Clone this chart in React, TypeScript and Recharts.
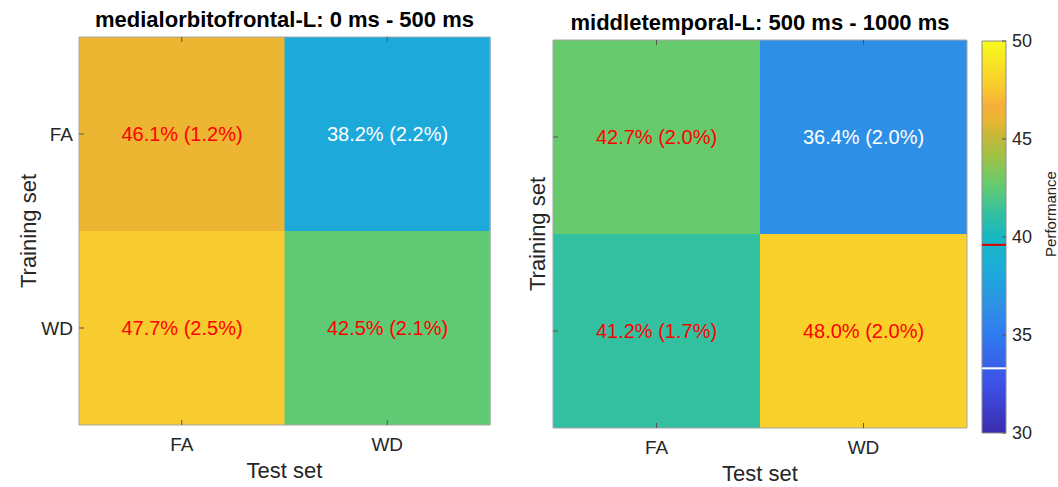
import { BarChart, Bar, XAxis, YAxis, Cell, LabelList, ReferenceLine } from 'recharts'

const testSets = ['FA', 'WD']

// medialorbitofrontal-L, 0-500 ms (rows = training set)
const mofTrainFA = [46.1, 38.2]
const mofTrainFASem = [1.2, 2.2]
const mofTrainWD = [47.7, 42.5]
const mofTrainWDSem = [2.5, 2.1]

// middletemporal-L, 500-1000 ms
const mtTrainFA = [42.7, 36.4]
const mtTrainFASem = [2.0, 2.0]
const mtTrainWD = [41.2, 48.0]
const mtTrainWDSem = [1.7, 2.0]

// colour bar
const cbRange = [30, 50]
const cbTicks = [30, 35, 40, 45, 50]
const sigLevel = 39.6
const chanceLevel = 33.3

const FONT = '"Liberation Sans", Arial, Helvetica, sans-serif'
const AXIS = '#262626'
const BOX = '#a6a6a6'
const TICK = '#555555'

// colour map as seen on the colour bar (0 = 30 %, 1 = 50 %)
const mapStops: [number, string][] = [
  [0, '#3a2cae'],
  [0.12, '#3e4fe6'],
  [0.25, '#2f7bf0'],
  [0.32, '#2e8fe6'],
  [0.41, '#1daadb'],
  [0.5, '#17b8c3'],
  [0.56, '#33c0a0'],
  [0.63, '#62cb70'],
  [0.71, '#a3c144'],
  [0.76, '#c8b838'],
  [0.805, '#edb632'],
  [0.835, '#f7ae3c'],
  [0.885, '#f8cc2e'],
  [0.9, '#f9d12a'],
  [1, '#f8fa1c'],
]

const hex = (c: string) => [1, 3, 5].map((i) => parseInt(c.slice(i, i + 2), 16))

function colourOf(v: number) {
  const t = Math.max(0, Math.min(1, (v - cbRange[0]) / (cbRange[1] - cbRange[0])))
  for (let i = 1; i < mapStops.length; i++) {
    const [t1, c1] = mapStops[i]
    const [t0, c0] = mapStops[i - 1]
    if (t <= t1) {
      const f = (t - t0) / (t1 - t0)
      const a = hex(c0)
      const b = hex(c1)
      return `rgb(${a.map((x, k) => Math.round(x + (b[k] - x) * f)).join(',')})`
    }
  }
  return mapStops[mapStops.length - 1][1]
}

const cellLabel = (vals: number[], sems: number[]) => (p: any) => {
  const x = Number(p.x) + Number(p.width) / 2
  const y = Number(p.y) + Number(p.height) / 2
  const v = vals[p.index]
  return (
    <text x={x} y={y} textAnchor="middle" dominantBaseline="central" fontSize={20} fontFamily={FONT}
      fill={v < 40 ? '#ffffff' : '#ff0000'}>
      {`${v.toFixed(1)}% (${sems[p.index].toFixed(1)}%)`}
    </text>
  )
}

interface HeatProps {
  title: string
  faVals: number[]
  faSem: number[]
  wdVals: number[]
  wdSem: number[]
  width: number
  topH: number
  leftW: number
  rightM: number
  bottomH: number
  yLabelX: number
  showYTicks: boolean
}

function Heatmap({ title, faVals, faSem, wdVals, wdSem, width, topH, leftW, rightM, bottomH, yLabelX, showYTicks }: HeatProps) {
  const rows = testSets.map((t, i) => ({ test: t, faRow: 1, wdRow: 1, fa: faVals[i], wd: wdVals[i] }))
  return (
    <BarChart width={width} height={487} data={rows} barCategoryGap={0}
      margin={{ top: 0, right: rightM, bottom: 2, left: 0 }}>
      <Bar dataKey="wdRow" stackId="cells" isAnimationActive={false}>
        {wdVals.map((v, i) => <Cell key={i} fill={colourOf(v)} />)}
        <LabelList dataKey="wd" content={cellLabel(wdVals, wdSem)} />
      </Bar>
      <Bar dataKey="faRow" stackId="cells" isAnimationActive={false}>
        {faVals.map((v, i) => <Cell key={i} fill={colourOf(v)} />)}
        <LabelList dataKey="fa" content={cellLabel(faVals, faSem)} />
      </Bar>
      <XAxis xAxisId="top" dataKey="test" orientation="top" height={topH} tickSize={-5}
        tickLine={{ stroke: TICK }} tickFormatter={() => ''} axisLine={{ stroke: BOX }}
        label={(p: any) => (
          <text x={p.viewBox.x + p.viewBox.width / 2} y={p.viewBox.y + p.viewBox.height - 18}
            textAnchor="middle" dominantBaseline="central" fontSize={22} fontWeight="bold" fontFamily={FONT} fill="#000">
            {title}
          </text>
        )} />
      <XAxis dataKey="test" height={bottomH} tickSize={-5} tickMargin={18} tickLine={{ stroke: TICK }}
        axisLine={{ stroke: BOX }} tick={{ fontSize: 19, fill: AXIS, fontFamily: FONT }}
        label={(p: any) => (
          <text x={p.viewBox.x + p.viewBox.width / 2} y={p.viewBox.y + 45} textAnchor="middle"
            dominantBaseline="central" fontSize={22} fontFamily={FONT} fill={AXIS}>Test set</text>
        )} />
      <YAxis type="number" domain={[0, 2]} ticks={[0.5, 1.5]} width={leftW} tickSize={-5}
        tickMargin={11} tickLine={{ stroke: TICK }} axisLine={{ stroke: BOX }}
        tick={{ fontSize: 19, fill: AXIS, fontFamily: FONT }}
        tickFormatter={(v: number) => (showYTicks ? (v > 1 ? 'FA' : 'WD') : '')}
        label={(p: any) => {
          const cx = p.viewBox.x + yLabelX
          const cy = p.viewBox.y + p.viewBox.height / 2
          return (
            <text x={cx} y={cy} transform={`rotate(-90, ${cx}, ${cy})`} textAnchor="middle"
              dominantBaseline="central" fontSize={22} fontFamily={FONT} fill={AXIS}>Training set</text>
          )
        }} />
      <YAxis yAxisId="r" orientation="right" type="number" domain={[0, 2]} ticks={[0.5, 1.5]} width={1}
        tickSize={-5} tickLine={{ stroke: TICK }} tickFormatter={() => ''} axisLine={{ stroke: BOX }} />
    </BarChart>
  )
}

function ColorBar() {
  return (
    <BarChart width={98} height={487} data={[{ k: 'cb', span: cbRange }]} barCategoryGap={0}
      margin={{ top: 41, right: 0, bottom: 54, left: 22 }}>
      <defs>
        <linearGradient id="mapGrad" x1="0" y1="1" x2="0" y2="0">
          {mapStops.map(([t, c]) => <stop key={t} offset={t} stopColor={c} />)}
        </linearGradient>
      </defs>
      <XAxis dataKey="k" hide />
      <Bar dataKey="span" fill="url(#mapGrad)" stroke="#8c8c8c" isAnimationActive={false} />
      <ReferenceLine y={sigLevel} stroke="#e00000" strokeWidth={2} />
      <ReferenceLine y={chanceLevel} stroke="#ffffff" strokeWidth={2} />
      <YAxis orientation="right" type="number" domain={cbRange} ticks={cbTicks} width={52}
        tickSize={-4} tickMargin={10} tickLine={{ stroke: TICK }} axisLine={false}
        tick={{ fontSize: 18, fill: AXIS, fontFamily: FONT }}
        label={(p: any) => {
          const cx = p.viewBox.x + 44
          const cy = 214
          return (
            <text x={cx} y={cy} transform={`rotate(-90, ${cx}, ${cy})`} textAnchor="middle"
              dominantBaseline="central" fontSize={15} fontFamily={FONT} fill={AXIS}>Performance</text>
          )
        }} />
    </BarChart>
  )
}

export default function App() {
  return (
    <div style={{ position: 'absolute', left: 0, top: 0, width: 1058, height: 487, background: '#fff', fontFamily: FONT }}>
      <div style={{ position: 'absolute', left: 0, top: 0 }}>
        <Heatmap title="medialorbitofrontal-L: 0 ms - 500 ms" faVals={mofTrainFA} faSem={mofTrainFASem}
          wdVals={mofTrainWD} wdSem={mofTrainWDSem} width={530} topH={37} leftW={79} rightM={39}
          bottomH={60} yLabelX={28} showYTicks />
      </div>
      <div style={{ position: 'absolute', left: 490, top: 0 }}>
        <Heatmap title="middletemporal-L: 500 ms - 1000 ms" faVals={mtTrainFA} faSem={mtTrainFASem}
          wdVals={mtTrainWD} wdSem={mtTrainWDSem} width={490} topH={40} leftW={63} rightM={12}
          bottomH={57} yLabelX={47} showYTicks={false} />
      </div>
      <div style={{ position: 'absolute', left: 960, top: 0 }}>
        <ColorBar />
      </div>
    </div>
  )
}
